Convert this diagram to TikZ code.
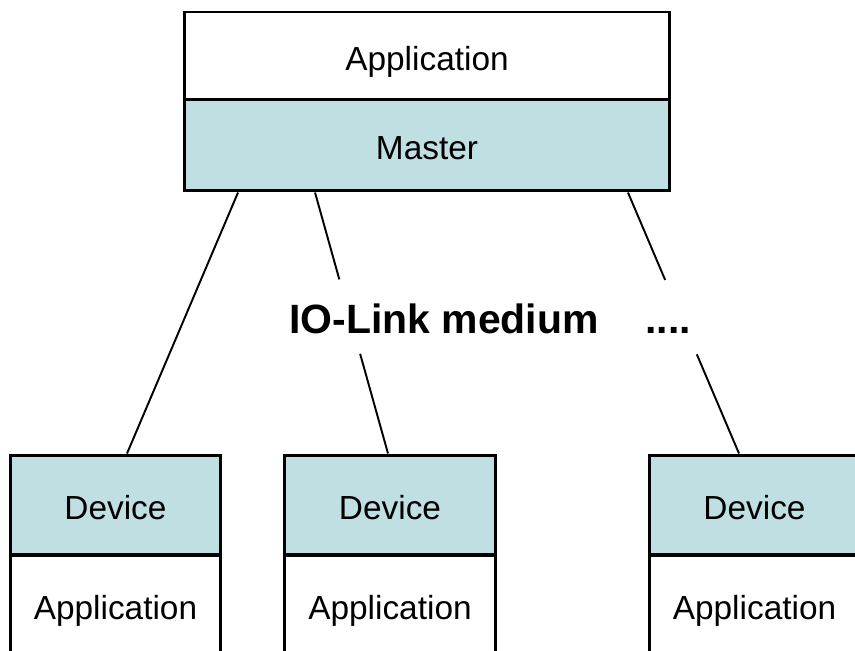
\documentclass[tikz,border=0pt]{standalone}
\usepackage{fontspec}
\setmainfont{Liberation Sans}
\usepackage{tikz}
\usetikzlibrary{shapes,arrows,calc}
\definecolor{layerblue}{RGB}{191,223,227}

\begin{document}
\begin{tikzpicture}
 		[
 		x = 0.02cm, y = -0.02cm,
 		layer/.style = {draw, line width = 1.7pt, rectangle, inner sep = 0pt,
 			text height = 16.5pt, text depth = 0pt,
 			font = \fontsize{19}{23}\selectfont},
 		toplayer/.style = {layer, minimum width = 9.72cm},
 		devlayer/.style = {layer, minimum width = 4.22cm, minimum height = 2cm},
 		blue layer/.style = {fill = layerblue},
 		white layer/.style = {fill = white},
 		link/.style = {line width = 1.1pt},
 		medium/.style = {font = \fontsize{23.3}{28}\bfseries\selectfont, inner sep = 0pt}
 		]
 		
 		\useasboundingbox (0,0) rectangle (855,651);
 		\clip (0,0) rectangle (855,651);
 		
 		\node [toplayer, white layer, minimum height = 1.76cm] (app) at (427,56) {Application};
 		\node [toplayer, blue layer, minimum height = 1.82cm] (master) at (427,145.5) {Master};
 		
 		\node [devlayer, blue layer] (dev1) at (115.5,505) {Device};
 		\node [devlayer, white layer] (devapp1) at (115.5,605) {Application};
 		\node [devlayer, blue layer] (dev2) at (390,505) {Device};
 		\node [devlayer, white layer] (devapp2) at (390,605) {Application};
 		\node [devlayer, blue layer] (dev3) at (754.5,505) {Device};
 		\node [devlayer, white layer] (devapp3) at (754.5,605) {Application};
 		
 		\node [medium, anchor = base] (iolink) at (444,334) {IO-Link medium};
 		\node [medium, anchor = base] (more) at (668,334) {....};
 		
 		\coordinate (m1) at ([xshift = -3.78cm]master.south);
 		\coordinate (m2) at ([xshift = -2.24cm]master.south);
 		\coordinate (m3) at ([xshift = 4.02cm]master.south);
 		\coordinate (d1) at ([xshift = 0.23cm]dev1.north);
 		\coordinate (d2) at ([xshift = -0.04cm]dev2.north);
 		\coordinate (d3) at ([xshift = -0.31cm]dev3.north);
 		
 		\draw [link] (m1) -- (d1);
 		\draw [link] (m2) -- ($(m2)!0.333!(d2)$) ($(m2)!0.618!(d2)$) -- (d2);
 		\draw [link] (m3) -- ($(m3)!0.335!(d3)$) ($(m3)!0.62!(d3)$) -- (d3);
 		
 		\end{tikzpicture}
\end{document}
